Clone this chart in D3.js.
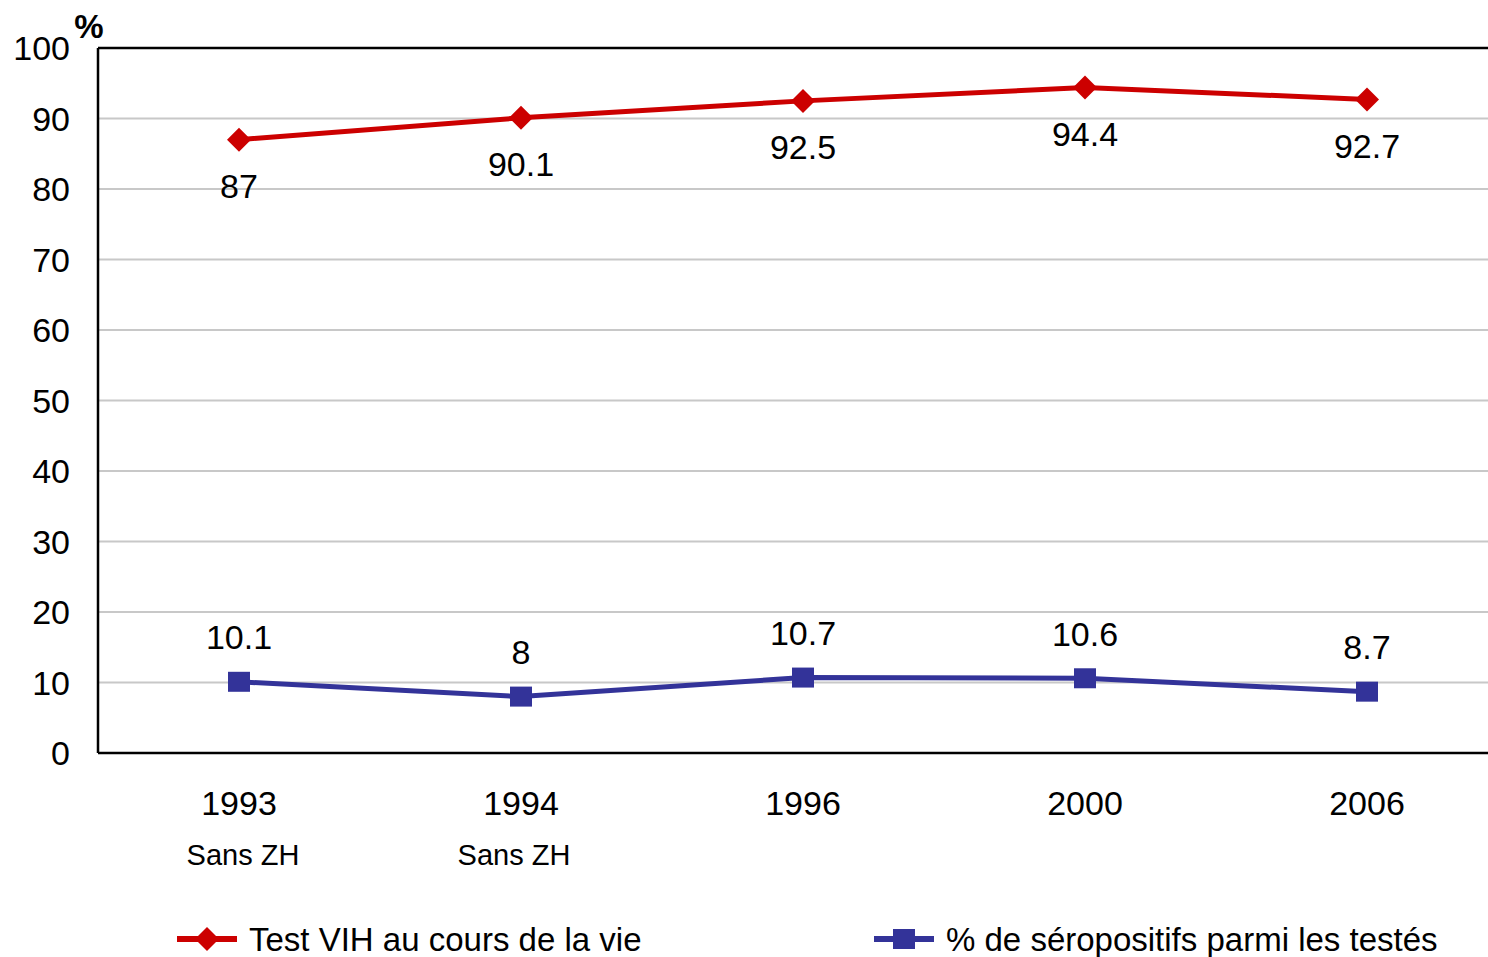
<!DOCTYPE html>
<html>
<head>
<meta charset="utf-8">
<script src="https://cdn.jsdelivr.net/npm/d3@7"></script>
<style>
  body { margin: 0; background: #fff; }
  text { font-family: "Liberation Sans", Arial, sans-serif; fill: #000; }
</style>
</head>
<body>
<div id="chart"></div>
<script>
// data
const years    = ['1993', '1994', '1996', '2000', '2006'];
const subLabels = ['Sans ZH', 'Sans ZH', '', '', ''];
const testVIH  = [87, 90.1, 92.5, 94.4, 92.7];
const seropos  = [10.1, 8, 10.7, 10.6, 8.7];
const yTicks   = [0, 10, 20, 30, 40, 50, 60, 70, 80, 90, 100];
const seriesNames = ['Test VIH au cours de la vie', '% de séropositifs parmi les testés'];

const W = 1488, H = 957;
const RED = '#cc0000', BLUE = '#333399';

const svg = d3.select('#chart').append('svg')
    .attr('width', W).attr('height', H);

const plotL = 98, plotT = 48, plotB = 753;
const step = 282;

const x = d3.scaleBand()
    .domain(years)
    .range([plotL, plotL + step * years.length]);
const y = d3.scaleLinear().domain([0, 100]).range([plotB, plotT]);
const cx = d => x(d) + x.bandwidth() / 2;

// gridlines
svg.append('g').selectAll('line')
    .data(yTicks.filter(t => t > 0 && t < 100))
  .join('line')
    .attr('x1', plotL).attr('x2', W)
    .attr('y1', d => y(d)).attr('y2', d => y(d))
    .attr('stroke', '#c8c8c8').attr('stroke-width', 2);

// frame
svg.append('line').attr('x1', plotL).attr('x2', W).attr('y1', plotT).attr('y2', plotT)
    .attr('stroke', '#000').attr('stroke-width', 2.5);
svg.append('line').attr('x1', plotL).attr('x2', W).attr('y1', plotB).attr('y2', plotB)
    .attr('stroke', '#000').attr('stroke-width', 2.5);
svg.append('line').attr('x1', plotL).attr('x2', plotL).attr('y1', plotT).attr('y2', plotB)
    .attr('stroke', '#000').attr('stroke-width', 2.5);

// y tick labels
svg.append('g').selectAll('text')
    .data(yTicks)
  .join('text')
    .attr('x', 70).attr('y', d => y(d))
    .attr('dy', '0.36em')
    .attr('text-anchor', 'end')
    .style('font-size', '34px')
    .text(d => d);

svg.append('text')
    .attr('x', 89).attr('y', 38)
    .attr('text-anchor', 'middle')
    .style('font-size', '33px').style('font-weight', 'bold')
    .text('%');

// x labels
svg.append('g').selectAll('text')
    .data(years)
  .join('text')
    .attr('x', d => cx(d)).attr('y', 803)
    .attr('dy', '0.36em')
    .attr('text-anchor', 'middle')
    .style('font-size', '34px')
    .text(d => d);

svg.append('g').selectAll('text')
    .data(years)
  .join('text')
    .attr('x', (d, i) => cx(d) + (i === 0 ? 4 : -7)).attr('y', 855)
    .attr('dy', '0.36em')
    .attr('text-anchor', 'middle')
    .style('font-size', '29px')
    .text((d, i) => subLabels[i]);

const line = d3.line().x((d, i) => cx(years[i])).y(d => y(d));

function series(values, color, shape, labelOffset) {
  const g = svg.append('g');
  g.append('path')
      .datum(values)
      .attr('d', line)
      .attr('fill', 'none')
      .attr('stroke', color).attr('stroke-width', 5);
  g.selectAll('path.m')
      .data(values)
    .join('path')
      .attr('class', 'm')
      .attr('transform', (d, i) => `translate(${cx(years[i])},${y(d)})`)
      .attr('d', shape)
      .attr('fill', color);
  g.selectAll('text')
      .data(values)
    .join('text')
      .attr('x', (d, i) => cx(years[i]))
      .attr('y', d => y(d) + labelOffset)
      .attr('dy', '0.36em')
      .attr('text-anchor', 'middle')
      .style('font-size', '34px')
      .text(d => d);
}

const diamond = 'M0,-12L12,0L0,12L-12,0Z';
const square = 'M-11,-10H11V10H-11Z';

series(testVIH, RED, diamond, 46);
series(seropos, BLUE, square, -45);

// legend
const legend = [
  { name: seriesNames[0], color: RED, shape: diamond, x: 177 },
  { name: seriesNames[1], color: BLUE, shape: square, x: 874 }
];
const lg = svg.append('g').selectAll('g')
    .data(legend)
  .join('g')
    .attr('transform', d => `translate(${d.x},939)`);
lg.append('line')
    .attr('x1', 0).attr('x2', 60)
    .attr('stroke', d => d.color).attr('stroke-width', 6);
lg.append('path')
    .attr('transform', 'translate(30,0)')
    .attr('d', d => d.shape)
    .attr('fill', d => d.color);
lg.append('text')
    .attr('x', 72).attr('dy', '0.36em')
    .style('font-size', '33px')
    .text(d => d.name);
</script>
</body>
</html>
